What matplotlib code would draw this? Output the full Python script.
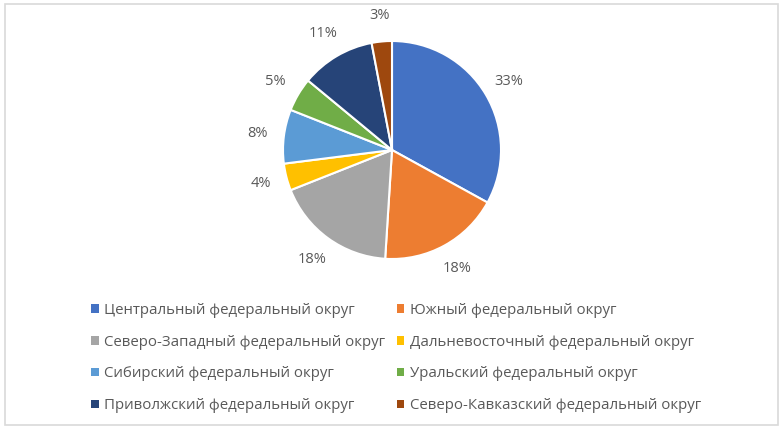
import matplotlib
matplotlib.use('Agg')
from matplotlib import pyplot as plt
from matplotlib.patches import Rectangle, Patch

plt.rcParams['font.family'] = ['Open Sans', 'DejaVu Sans']

# data
districts = ['Центральный федеральный округ', 'Южный федеральный округ',
             'Северо-Западный федеральный округ', 'Дальневосточный федеральный округ',
             'Сибирский федеральный округ', 'Уральский федеральный округ',
             'Приволжский федеральный округ', 'Северо-Кавказский федеральный округ']
shares = [33, 18, 18, 4, 8, 5, 11, 3]
colors = ['#4472C4', '#ED7D31', '#A5A5A5', '#FFC000',
          '#5B9BD5', '#70AD47', '#264478', '#9E480E']

W, H = 783, 430
fig = plt.figure(figsize=(W/100, H/100), dpi=100)

# pie axes: center (392,150) px, radius ~109 px
r = 109
lim = 1.4
side = 2*lim*r
cx, cy = 392, 150
ax = fig.add_axes([(cx-side/2)/W, (H-cy-side/2)/H, side/W, side/H])
wedges, texts = ax.pie(shares, colors=colors, startangle=90, counterclock=False,
                       labels=[str(s)+'%' for s in shares], labeldistance=1.24,
                       wedgeprops=dict(edgecolor='white', linewidth=1.5),
                       textprops=dict(color='#595959', fontsize=10.5))
for t in texts:
    t.set_horizontalalignment('center')
    t.set_verticalalignment('center')
ax.set_xlim(-lim, lim)
ax.set_ylim(-lim, lim)
ax.set_aspect('equal')
ax.axis('off')

# legend, 2 columns filled row by row
order = [0, 2, 4, 6, 1, 3, 5, 7]
handles = [Patch(facecolor=colors[i], edgecolor='none') for i in order]
labs = [districts[i] for i in order]
leg = fig.legend(handles, labs, ncol=2, loc='center', bbox_to_anchor=(396/W, 1-358/H),
                 frameon=False, fontsize=10.8, handlelength=0.5, handleheight=0.5,
                 handletextpad=0.35, columnspacing=0.8, labelspacing=1.12,
                 labelcolor='#595959')

# outer border
fig.patches.append(Rectangle((4.5/W, 5/H), 773/W, 421/H, transform=fig.transFigure,
                             fill=False, edgecolor='#D9D9D9', linewidth=1.2))

fig.savefig('out.png', dpi=100)
